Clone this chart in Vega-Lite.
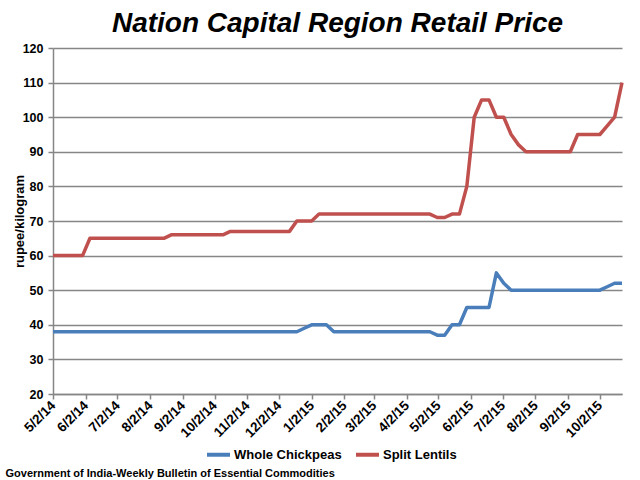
{
  "$schema": "https://vega.github.io/schema/vega-lite/v6.json",
  "width": 569,
  "height": 346,
  "autosize": {"type": "none"},
  "padding": {"left": 53, "top": 48, "right": 18, "bottom": 86},
  "background": "white",
  "title": {
    "text": "Nation Capital Region Retail Price",
    "font": "Liberation Sans Narrow, Liberation Sans, sans-serif",
    "fontSize": 28,
    "fontWeight": "bold",
    "fontStyle": "italic",
    "color": "black",
    "anchor": "middle",
    "frame": "group",
    "baseline": "bottom",
    "offset": 9,
    "dy": 33
  },
  "data": {
    "values": [
      {"date": "2014-05-02", "Whole Chickpeas": 38, "Split Lentils": 60},
      {"date": "2014-05-09", "Whole Chickpeas": 38, "Split Lentils": 60},
      {"date": "2014-05-16", "Whole Chickpeas": 38, "Split Lentils": 60},
      {"date": "2014-05-23", "Whole Chickpeas": 38, "Split Lentils": 60},
      {"date": "2014-05-30", "Whole Chickpeas": 38, "Split Lentils": 60},
      {"date": "2014-06-06", "Whole Chickpeas": 38, "Split Lentils": 65},
      {"date": "2014-06-13", "Whole Chickpeas": 38, "Split Lentils": 65},
      {"date": "2014-06-20", "Whole Chickpeas": 38, "Split Lentils": 65},
      {"date": "2014-06-27", "Whole Chickpeas": 38, "Split Lentils": 65},
      {"date": "2014-07-04", "Whole Chickpeas": 38, "Split Lentils": 65},
      {"date": "2014-07-11", "Whole Chickpeas": 38, "Split Lentils": 65},
      {"date": "2014-07-18", "Whole Chickpeas": 38, "Split Lentils": 65},
      {"date": "2014-07-25", "Whole Chickpeas": 38, "Split Lentils": 65},
      {"date": "2014-08-01", "Whole Chickpeas": 38, "Split Lentils": 65},
      {"date": "2014-08-08", "Whole Chickpeas": 38, "Split Lentils": 65},
      {"date": "2014-08-15", "Whole Chickpeas": 38, "Split Lentils": 65},
      {"date": "2014-08-22", "Whole Chickpeas": 38, "Split Lentils": 66},
      {"date": "2014-08-29", "Whole Chickpeas": 38, "Split Lentils": 66},
      {"date": "2014-09-05", "Whole Chickpeas": 38, "Split Lentils": 66},
      {"date": "2014-09-12", "Whole Chickpeas": 38, "Split Lentils": 66},
      {"date": "2014-09-19", "Whole Chickpeas": 38, "Split Lentils": 66},
      {"date": "2014-09-26", "Whole Chickpeas": 38, "Split Lentils": 66},
      {"date": "2014-10-03", "Whole Chickpeas": 38, "Split Lentils": 66},
      {"date": "2014-10-10", "Whole Chickpeas": 38, "Split Lentils": 66},
      {"date": "2014-10-17", "Whole Chickpeas": 38, "Split Lentils": 67},
      {"date": "2014-10-24", "Whole Chickpeas": 38, "Split Lentils": 67},
      {"date": "2014-10-31", "Whole Chickpeas": 38, "Split Lentils": 67},
      {"date": "2014-11-07", "Whole Chickpeas": 38, "Split Lentils": 67},
      {"date": "2014-11-14", "Whole Chickpeas": 38, "Split Lentils": 67},
      {"date": "2014-11-21", "Whole Chickpeas": 38, "Split Lentils": 67},
      {"date": "2014-11-28", "Whole Chickpeas": 38, "Split Lentils": 67},
      {"date": "2014-12-05", "Whole Chickpeas": 38, "Split Lentils": 67},
      {"date": "2014-12-12", "Whole Chickpeas": 38, "Split Lentils": 67},
      {"date": "2014-12-19", "Whole Chickpeas": 38, "Split Lentils": 70},
      {"date": "2014-12-26", "Whole Chickpeas": 39, "Split Lentils": 70},
      {"date": "2015-01-02", "Whole Chickpeas": 40, "Split Lentils": 70},
      {"date": "2015-01-09", "Whole Chickpeas": 40, "Split Lentils": 72},
      {"date": "2015-01-16", "Whole Chickpeas": 40, "Split Lentils": 72},
      {"date": "2015-01-23", "Whole Chickpeas": 38, "Split Lentils": 72},
      {"date": "2015-01-30", "Whole Chickpeas": 38, "Split Lentils": 72},
      {"date": "2015-02-06", "Whole Chickpeas": 38, "Split Lentils": 72},
      {"date": "2015-02-13", "Whole Chickpeas": 38, "Split Lentils": 72},
      {"date": "2015-02-20", "Whole Chickpeas": 38, "Split Lentils": 72},
      {"date": "2015-02-27", "Whole Chickpeas": 38, "Split Lentils": 72},
      {"date": "2015-03-06", "Whole Chickpeas": 38, "Split Lentils": 72},
      {"date": "2015-03-13", "Whole Chickpeas": 38, "Split Lentils": 72},
      {"date": "2015-03-20", "Whole Chickpeas": 38, "Split Lentils": 72},
      {"date": "2015-03-27", "Whole Chickpeas": 38, "Split Lentils": 72},
      {"date": "2015-04-03", "Whole Chickpeas": 38, "Split Lentils": 72},
      {"date": "2015-04-10", "Whole Chickpeas": 38, "Split Lentils": 72},
      {"date": "2015-04-17", "Whole Chickpeas": 38, "Split Lentils": 72},
      {"date": "2015-04-24", "Whole Chickpeas": 38, "Split Lentils": 72},
      {"date": "2015-05-01", "Whole Chickpeas": 37, "Split Lentils": 71},
      {"date": "2015-05-08", "Whole Chickpeas": 37, "Split Lentils": 71},
      {"date": "2015-05-15", "Whole Chickpeas": 40, "Split Lentils": 72},
      {"date": "2015-05-22", "Whole Chickpeas": 40, "Split Lentils": 72},
      {"date": "2015-05-29", "Whole Chickpeas": 45, "Split Lentils": 80},
      {"date": "2015-06-05", "Whole Chickpeas": 45, "Split Lentils": 100},
      {"date": "2015-06-12", "Whole Chickpeas": 45, "Split Lentils": 105},
      {"date": "2015-06-19", "Whole Chickpeas": 45, "Split Lentils": 105},
      {"date": "2015-06-26", "Whole Chickpeas": 55, "Split Lentils": 100},
      {"date": "2015-07-03", "Whole Chickpeas": 52, "Split Lentils": 100},
      {"date": "2015-07-10", "Whole Chickpeas": 50, "Split Lentils": 95},
      {"date": "2015-07-17", "Whole Chickpeas": 50, "Split Lentils": 92},
      {"date": "2015-07-24", "Whole Chickpeas": 50, "Split Lentils": 90},
      {"date": "2015-07-31", "Whole Chickpeas": 50, "Split Lentils": 90},
      {"date": "2015-08-07", "Whole Chickpeas": 50, "Split Lentils": 90},
      {"date": "2015-08-14", "Whole Chickpeas": 50, "Split Lentils": 90},
      {"date": "2015-08-21", "Whole Chickpeas": 50, "Split Lentils": 90},
      {"date": "2015-08-28", "Whole Chickpeas": 50, "Split Lentils": 90},
      {"date": "2015-09-04", "Whole Chickpeas": 50, "Split Lentils": 90},
      {"date": "2015-09-11", "Whole Chickpeas": 50, "Split Lentils": 95},
      {"date": "2015-09-18", "Whole Chickpeas": 50, "Split Lentils": 95},
      {"date": "2015-09-25", "Whole Chickpeas": 50, "Split Lentils": 95},
      {"date": "2015-10-02", "Whole Chickpeas": 50, "Split Lentils": 95},
      {"date": "2015-10-09", "Whole Chickpeas": 51, "Split Lentils": 97.5},
      {"date": "2015-10-16", "Whole Chickpeas": 52, "Split Lentils": 100},
      {"date": "2015-10-23", "Whole Chickpeas": 52, "Split Lentils": 110}
    ]
  },
  "transform": [{"fold": ["Whole Chickpeas", "Split Lentils"], "as": ["series", "value"]}],
  "mark": {"type": "line", "strokeWidth": 3.5, "strokeJoin": "round"},
  "encoding": {
    "x": {
      "field": "date",
      "type": "temporal",
      "scale": {
        "type": "utc",
        "domain": [
          {"year": 2014, "month": 5, "date": 2, "utc": true},
          {"year": 2015, "month": 10, "date": 23, "utc": true}
        ]
      },
      "axis": {
        "values": [
          {"year": 2014, "month": 5, "date": 2, "utc": true},
          {"year": 2014, "month": 6, "date": 2, "utc": true},
          {"year": 2014, "month": 7, "date": 2, "utc": true},
          {"year": 2014, "month": 8, "date": 2, "utc": true},
          {"year": 2014, "month": 9, "date": 2, "utc": true},
          {"year": 2014, "month": 10, "date": 2, "utc": true},
          {"year": 2014, "month": 11, "date": 2, "utc": true},
          {"year": 2014, "month": 12, "date": 2, "utc": true},
          {"year": 2015, "month": 1, "date": 2, "utc": true},
          {"year": 2015, "month": 2, "date": 2, "utc": true},
          {"year": 2015, "month": 3, "date": 2, "utc": true},
          {"year": 2015, "month": 4, "date": 2, "utc": true},
          {"year": 2015, "month": 5, "date": 2, "utc": true},
          {"year": 2015, "month": 6, "date": 2, "utc": true},
          {"year": 2015, "month": 7, "date": 2, "utc": true},
          {"year": 2015, "month": 8, "date": 2, "utc": true},
          {"year": 2015, "month": 9, "date": 2, "utc": true},
          {"year": 2015, "month": 10, "date": 2, "utc": true}
        ],
        "format": "%-m/%-d/%y",
        "labelAngle": -45,
        "labelAlign": "right",
        "labelBaseline": "middle",
        "labelFont": "Liberation Sans Narrow, Liberation Sans, sans-serif",
        "labelFontSize": 13.5,
        "labelFontWeight": "bold",
        "labelColor": "black",
        "labelPadding": 4,
        "labelOverlap": false,
        "labelFlush": false,
        "tickColor": "#868686",
        "tickSize": 5,
        "tickWidth": 1.5,
        "domainColor": "#868686",
        "domainWidth": 1.5,
        "grid": false,
        "title": "Government of India-Weekly Bulletin of Essential Commodities",
        "titleAnchor": "start",
        "titleAlign": "left",
        "titleX": -48,
        "titleY": 79,
        "titleBaseline": "middle",
        "titleFont": "Liberation Sans Narrow, Liberation Sans, sans-serif",
        "titleFontSize": 11,
        "titleFontWeight": "bold",
        "titleColor": "black"
      }
    },
    "y": {
      "field": "value",
      "type": "quantitative",
      "scale": {"domain": [20, 120], "nice": false, "zero": false},
      "axis": {
        "values": [20, 30, 40, 50, 60, 70, 80, 90, 100, 110, 120],
        "labelFont": "Liberation Sans Narrow, Liberation Sans, sans-serif",
        "labelFontSize": 12.5,
        "labelFontWeight": "bold",
        "labelColor": "black",
        "labelPadding": 5,
        "tickColor": "#868686",
        "tickSize": 5,
        "tickWidth": 1.5,
        "domainColor": "#868686",
        "domainWidth": 1.5,
        "gridColor": "#868686",
        "gridWidth": 1.5,
        "title": "rupee/kilogram",
        "titleFont": "Liberation Sans Narrow, Liberation Sans, sans-serif",
        "titleFontSize": 13,
        "titleFontWeight": "bold",
        "titleColor": "black",
        "titleAngle": -90,
        "titleX": -34,
        "titleY": 173,
        "titleAlign": "center",
        "titleBaseline": "middle"
      }
    },
    "color": {
      "field": "series",
      "type": "nominal",
      "scale": {"domain": ["Whole Chickpeas", "Split Lentils"], "range": ["#4A7EBB", "#C0504D"]},
      "legend": {
        "orient": "none",
        "legendX": 152,
        "legendY": 393,
        "direction": "horizontal",
        "title": null,
        "symbolType": "stroke",
        "symbolStrokeWidth": 4,
        "symbolSize": 529,
        "labelFont": "Liberation Sans Narrow, Liberation Sans, sans-serif",
        "labelFontSize": 13,
        "labelFontWeight": "bold",
        "labelColor": "black",
        "labelOffset": 2,
        "columnPadding": 6
      }
    }
  },
  "config": {"view": {"stroke": null}}
}
